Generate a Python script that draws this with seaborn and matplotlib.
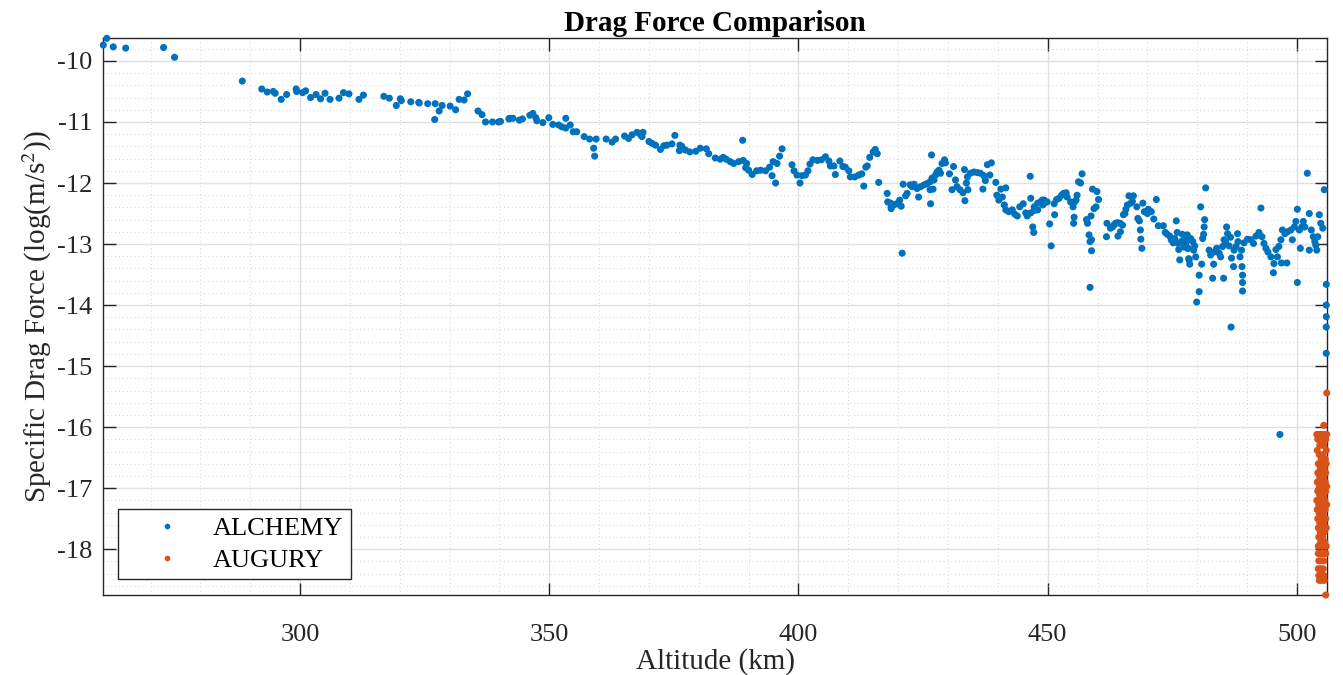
import matplotlib
matplotlib.use("Agg")
import matplotlib.pyplot as plt
import pandas as pd
import seaborn as sns
from matplotlib.ticker import MultipleLocator, FormatStrFormatter

sns.set_theme(style="white")
plt.rcParams['font.family'] = ['Liberation Serif', 'DejaVu Serif']
plt.rcParams['mathtext.fontset'] = 'stix'
plt.rcParams['axes.unicode_minus'] = False

# ALCHEMY samples: (altitude km, log10 specific drag m/s^2)
alchemy_high_alt = [
    (260.5, -9.74), (261.2, -9.63), (262.5, -9.77), (265.0, -9.79), (272.6, -9.78),
    (274.8, -9.94), (288.4, -10.33), (292.3, -10.46), (293.4, -10.51), (294.6, -10.50),
    (295.0, -10.53), (296.2, -10.63), (297.3, -10.55), (299.2, -10.46), (299.3, -10.50),
    (300.5, -10.52), (301.1, -10.49), (302.1, -10.60), (303.2, -10.55), (304.1, -10.62),
    (305.0, -10.53), (306.0, -10.63), (307.8, -10.61), (308.7, -10.52), (309.8, -10.54),
    (311.8, -10.63), (312.7, -10.56), (316.8, -10.58), (317.9, -10.61), (319.3, -10.73),
    (320.1, -10.62), (320.3, -10.65), (322.2, -10.67), (323.8, -10.68), (323.9, -10.69),
    (325.6, -10.70), (327.0, -10.96), (327.1, -10.70), (327.9, -10.82), (328.5, -10.73),
    (330.1, -10.74), (331.2, -10.80), (331.9, -10.63), (332.9, -10.64), (333.6, -10.54),
    (335.7, -10.82), (336.5, -10.88), (337.2, -11.00), (338.6, -11.00), (339.8, -11.00),
    (341.9, -10.95),
]

alchemy_mid_alt = [
    (340.2, -10.99), (342.0, -10.94), (342.7, -10.94), (344.0, -10.97), (344.6, -10.95),
    (346.1, -10.89), (346.7, -10.86), (347.3, -10.93), (347.5, -10.98), (348.7, -11.01),
    (349.9, -10.93), (350.7, -11.04), (351.9, -11.05), (352.5, -11.08), (353.3, -10.94),
    (353.3, -11.10), (354.2, -11.05), (354.8, -11.16), (355.5, -11.16), (357.0, -11.24),
    (358.1, -11.28), (359.4, -11.28), (358.9, -11.43), (359.1, -11.56), (361.4, -11.28),
    (362.6, -11.33), (363.3, -11.28), (365.1, -11.23), (365.9, -11.27), (366.6, -11.21),
    (367.6, -11.17), (368.3, -11.21), (368.8, -11.17), (368.6, -11.24), (370.0, -11.32),
    (370.6, -11.35), (371.3, -11.38), (372.3, -11.45), (373.0, -11.39), (373.6, -11.38),
    (374.6, -11.36), (375.2, -11.22), (376.2, -11.38), (376.6, -11.40), (376.1, -11.47),
    (377.3, -11.46), (378.2, -11.49), (379.4, -11.48), (380.3, -11.43), (381.5, -11.44),
    (382.0, -11.52), (383.3, -11.59), (384.3, -11.61), (384.9, -11.58), (385.5, -11.61),
    (386.3, -11.65), (387.0, -11.68), (388.0, -11.65), (388.9, -11.63), (389.6, -11.68),
    (388.8, -11.30), (389.4, -11.75), (390.0, -11.79), (390.7, -11.86), (391.6, -11.80),
    (392.4, -11.79), (393.4, -11.80), (394.2, -11.74), (394.9, -11.65), (395.7, -11.68),
    (394.7, -11.88), (395.4, -12.00), (396.2, -11.56), (396.7, -11.44), (398.7, -11.70),
    (399.1, -11.80), (399.7, -11.87), (400.3, -12.00), (400.7, -11.88), (401.4, -11.87),
    (401.9, -11.80), (402.3, -11.69), (402.9, -11.62), (403.8, -11.63), (404.6, -11.62),
    (405.4, -11.57), (406.1, -11.64), (406.4, -11.72), (407.1, -11.72), (407.4, -11.86),
    (408.3, -11.64), (408.9, -11.73), (409.4, -11.74), (410.1, -11.80), (410.4, -11.90),
    (411.3, -11.90), (412.1, -11.87), (413.1, -12.05), (412.7, -11.85), (413.5, -11.74),
    (413.8, -11.72), (414.3, -11.58), (415.0, -11.49), (415.4, -11.45), (415.8, -11.52),
    (416.1, -11.99),
]

alchemy_low_alt = [
    (417.8, -12.17), (417.9, -12.31), (418.5, -12.33), (418.6, -12.39), (419.1, -12.36),
    (419.7, -12.34), (420.3, -12.28), (420.6, -12.38), (418.6, -12.42), (420.8, -13.15),
    (421.0, -12.02), (421.5, -12.21), (421.8, -12.17), (422.4, -12.03), (422.8, -12.06),
    (423.2, -12.02), (423.8, -12.09), (424.5, -12.06), (425.2, -12.03), (425.8, -12.01),
    (426.4, -11.98), (426.8, -11.92), (427.2, -11.95), (427.5, -11.87), (427.8, -11.82),
    (428.2, -11.79), (428.5, -11.84), (424.1, -12.23), (426.5, -12.34), (426.7, -11.54),
    (426.4, -12.11), (427.0, -12.10), (428.8, -11.68), (429.3, -11.62), (429.5, -11.67),
    (430.3, -11.85), (431.1, -11.73), (430.8, -12.11), (431.5, -11.95), (431.8, -12.06),
    (432.4, -12.11), (433.0, -12.16), (433.4, -12.29), (434.0, -12.11), (433.7, -12.00),
    (433.3, -11.78), (433.9, -11.90), (434.5, -11.84), (435.2, -11.82), (435.9, -11.83),
    (436.5, -11.84), (437.2, -11.88), (437.9, -11.70), (438.7, -11.67), (437.5, -11.96),
    (438.4, -11.87), (437.0, -12.10), (439.6, -11.99), (439.8, -12.20), (440.2, -12.28),
    (440.6, -12.10), (440.9, -12.23), (441.6, -12.08), (441.3, -12.36), (441.6, -12.44),
    (442.2, -12.47), (442.9, -12.44), (443.4, -12.51), (443.9, -12.54), (444.4, -12.39),
    (445.1, -12.34), (445.6, -12.49), (445.9, -12.54), (446.5, -11.89), (446.6, -12.25),
    (447.0, -12.72), (447.2, -12.81), (447.3, -12.39), (448.0, -12.33), (448.6, -12.31),
    (449.3, -12.28), (449.0, -12.36), (448.0, -12.44), (446.6, -12.49), (447.3, -12.45),
    (448.9, -12.28), (449.2, -12.34), (449.9, -12.31), (450.4, -12.67), (450.7, -13.03),
    (451.4, -12.52), (451.3, -12.34), (451.8, -12.27), (452.3, -12.25), (452.8, -12.20),
    (453.2, -12.17), (453.7, -12.16), (453.9, -12.23), (454.6, -12.31), (455.1, -12.39),
    (455.3, -12.56), (455.2, -12.66), (455.4, -12.31), (455.7, -12.28), (455.9, -12.20),
    (456.2, -11.98), (456.6, -12.00), (456.9, -11.85), (457.8, -12.60), (458.0, -12.66),
    (458.3, -12.85), (458.5, -12.96), (458.8, -12.93), (458.8, -13.11), (458.5, -13.71),
    (458.7, -12.54), (459.0, -12.10), (459.3, -12.42), (459.7, -12.39), (459.9, -12.14),
    (460.2, -12.27), (461.8, -12.88), (461.9, -12.66), (462.6, -12.74), (463.0, -12.72),
    (463.3, -12.69), (463.6, -12.66), (464.0, -12.65), (464.1, -12.87), (464.5, -12.66),
    (464.6, -12.80), (465.0, -12.69), (465.2, -12.52), (465.5, -12.50), (465.7, -12.43),
    (466.0, -12.36), (466.3, -12.21), (466.7, -12.33), (467.2, -12.21), (467.0, -12.30),
    (467.9, -12.39), (468.1, -12.58), (468.4, -12.62), (468.6, -12.77), (468.7, -12.92),
    (468.9, -13.07), (469.1, -12.33), (469.4, -12.47), (470.0, -12.50), (470.2, -12.43),
    (470.8, -12.47), (471.3, -12.59), (471.8, -12.27), (472.2, -12.70), (473.2, -12.70),
    (473.6, -12.81), (474.0, -12.84), (474.5, -12.87), (474.8, -12.93), (475.2, -12.98),
    (475.5, -12.91), (475.8, -12.62), (476.0, -12.81), (476.2, -12.99), (476.3, -13.09),
    (476.5, -13.26), (476.8, -12.96), (477.4, -13.05), (477.6, -12.93), (478.0, -12.85),
    (478.2, -13.07), (478.3, -13.24), (478.5, -13.33), (478.7, -12.93),
]

alchemy_final = [
    (477.0, -12.84), (477.5, -12.91), (477.7, -12.99), (478.1, -13.07), (478.4, -13.26),
    (478.7, -12.91), (479.1, -12.96), (479.3, -13.10), (479.7, -13.21), (479.5, -13.03),
    (479.9, -13.95), (480.4, -13.78), (480.4, -13.51), (480.7, -12.39), (480.9, -13.33),
    (481.1, -12.91), (481.3, -12.84), (481.4, -12.72), (481.5, -12.60), (481.7, -12.08),
    (482.4, -13.10), (482.7, -13.18), (483.1, -13.56), (483.3, -13.33), (483.4, -13.13),
    (483.9, -13.07), (484.4, -13.15), (484.7, -13.21), (485.1, -13.04), (485.3, -13.56),
    (485.4, -12.93), (485.7, -12.96), (485.9, -12.72), (486.1, -12.83), (486.4, -13.03),
    (486.7, -12.89), (486.9, -13.23), (487.3, -13.37), (487.4, -13.10), (487.8, -13.04),
    (488.1, -12.83), (488.2, -12.96), (488.6, -13.21), (488.9, -13.10), (489.0, -13.37),
    (489.1, -13.51), (489.1, -13.63), (489.1, -13.77), (489.4, -12.98), (490.1, -12.92),
    (490.8, -12.93), (491.3, -12.99), (491.8, -12.87), (492.4, -12.81), (492.8, -12.41),
    (493.0, -12.88), (493.4, -12.99), (493.8, -13.07), (494.2, -13.13), (494.8, -13.21),
    (495.3, -13.47), (495.4, -13.32), (495.8, -13.09), (496.1, -13.21), (496.4, -13.04),
    (496.8, -12.93), (496.9, -13.31), (497.1, -12.77), (497.6, -12.83), (498.0, -13.31),
    (498.1, -12.80), (498.8, -12.77), (499.1, -12.93), (499.5, -12.72), (499.8, -12.63),
    (500.1, -13.63), (500.1, -12.43), (500.5, -12.77), (500.7, -13.07), (501.0, -12.72),
    (501.3, -12.63), (501.6, -12.72), (502.1, -11.84), (502.5, -12.50), (502.5, -13.10),
    (502.9, -12.77), (503.3, -12.88), (503.6, -12.96), (503.8, -13.02), (504.0, -13.10),
    (504.2, -12.88), (504.5, -12.52), (504.8, -12.66), (505.2, -12.74), (505.5, -12.11),
    (505.9, -13.66), (505.9, -14.00), (505.9, -14.19), (505.9, -14.36), (505.9, -14.79),
    (496.6, -16.12), (486.8, -14.36),
]

# AUGURY samples, all clustered near the top of the altitude range
augury = [
    (506.0, -15.44), (505.4, -15.97),
    (504.0, -16.12), (504.4, -16.12), (504.8, -16.12), (505.2, -16.12), (505.6, -16.12), (506.0, -16.12),
    (504.2, -16.20), (505.0, -16.20), (505.8, -16.20),
    (504.6, -16.30), (505.4, -16.30),
    (504.1, -16.38), (505.9, -16.38),
    (504.5, -16.45), (505.2, -16.45),
    (504.9, -16.52), (505.7, -16.52),
    (504.3, -16.60), (505.1, -16.60), (505.9, -16.60),
    (504.7, -16.68), (505.5, -16.68),
    (504.2, -16.75), (505.0, -16.75), (505.8, -16.75),
    (504.6, -16.82), (505.4, -16.82),
    (504.1, -16.90), (504.9, -16.90), (505.7, -16.90),
    (504.5, -16.97), (505.3, -16.97), (506.0, -16.97),
    (504.2, -17.05), (505.0, -17.05), (505.8, -17.05),
    (504.6, -17.12), (505.4, -17.12),
    (504.0, -17.20), (504.8, -17.20), (505.6, -17.20),
    (504.4, -17.27), (505.2, -17.27), (506.0, -17.27),
    (504.1, -17.35), (504.9, -17.35), (505.7, -17.35),
    (504.5, -17.42), (505.3, -17.42),
    (504.2, -17.50), (505.0, -17.50), (505.8, -17.50),
    (504.6, -17.57), (505.4, -17.57),
    (504.3, -17.65), (505.1, -17.65), (505.9, -17.65),
    (504.7, -17.72), (505.5, -17.72),
    (504.4, -17.80), (505.2, -17.80),
    (504.8, -17.88), (505.6, -17.88),
    (504.3, -17.95), (505.1, -17.95), (505.9, -17.95),
    (504.3, -18.07), (504.8, -18.07), (505.3, -18.07), (505.8, -18.07),
    (504.4, -18.19), (504.9, -18.19), (505.4, -18.19),
    (504.3, -18.32), (504.8, -18.32), (505.3, -18.32),
    (504.4, -18.43), (504.9, -18.43), (505.4, -18.43),
    (504.5, -18.51), (505.0, -18.51), (505.5, -18.51),
    (505.8, -18.75),
]

series_names = ["ALCHEMY", "AUGURY"]
series_colors = ["#0072BD", "#D95319"]

alchemy = alchemy_high_alt + alchemy_mid_alt + alchemy_low_alt + alchemy_final
frames = []
for name, pts in zip(series_names, [alchemy, augury]):
    d = pd.DataFrame(pts, columns=["Altitude", "Drag"])
    d["Satellite"] = name
    frames.append(d)
df = pd.concat(frames, ignore_index=True)

ink = "#262626"
fig = plt.figure(figsize=(13.43, 6.75), dpi=100)
ax = fig.add_axes([0.0769, 0.1185, 0.9110, 0.8256])

sns.scatterplot(data=df, x="Altitude", y="Drag", hue="Satellite",
                hue_order=series_names, palette=series_colors,
                s=26, linewidth=0, ax=ax, clip_on=False, zorder=3)

ax.set_xlim(260.5, 506.0)
ax.set_ylim(-18.75, -9.62)
ax.xaxis.set_major_locator(MultipleLocator(50))
ax.xaxis.set_minor_locator(MultipleLocator(10))
ax.yaxis.set_major_locator(MultipleLocator(1))
ax.yaxis.set_minor_locator(MultipleLocator(0.2))
ax.yaxis.set_major_formatter(FormatStrFormatter("%d"))

ax.set_axisbelow(True)
ax.grid(which="major", color="#e0e0e0", linewidth=1.0, linestyle="-")
ax.grid(which="minor", color="#d6d6d6", linewidth=0.7, linestyle=(0, (1, 3)))

ax.tick_params(which="major", direction="in", length=9, width=1.0,
               top=True, right=True, bottom=True, left=True,
               color=ink, labelcolor=ink, labelsize=19)
ax.tick_params(axis="x", which="major", pad=21)
ax.tick_params(axis="y", which="major", pad=8)
ax.tick_params(which="minor", length=0)
for sp in ax.spines.values():
    sp.set_color(ink)
    sp.set_linewidth(1.0)

ax.set_xlabel("Altitude (km)", fontsize=21, color=ink, labelpad=1)
ax.set_ylabel("Specific Drag Force (log(m/s$^2$))", fontsize=21, color=ink, labelpad=2)
ax.set_title("Drag Force Comparison", fontsize=21, fontweight="bold", color="black", pad=5)

leg = ax.legend(loc="lower left", bbox_to_anchor=(0.012, 0.028), borderaxespad=0,
                fontsize=19, frameon=True, fancybox=False, edgecolor=ink,
                handletextpad=0.17, borderpad=0.28, labelspacing=0.33,
                handlelength=3.15, markerscale=0.8)
leg.get_frame().set_linewidth(1.0)
leg.get_frame().set_alpha(1.0)
for t in leg.get_texts():
    t.set_color("black")

fig.savefig("out.png", dpi=100)
